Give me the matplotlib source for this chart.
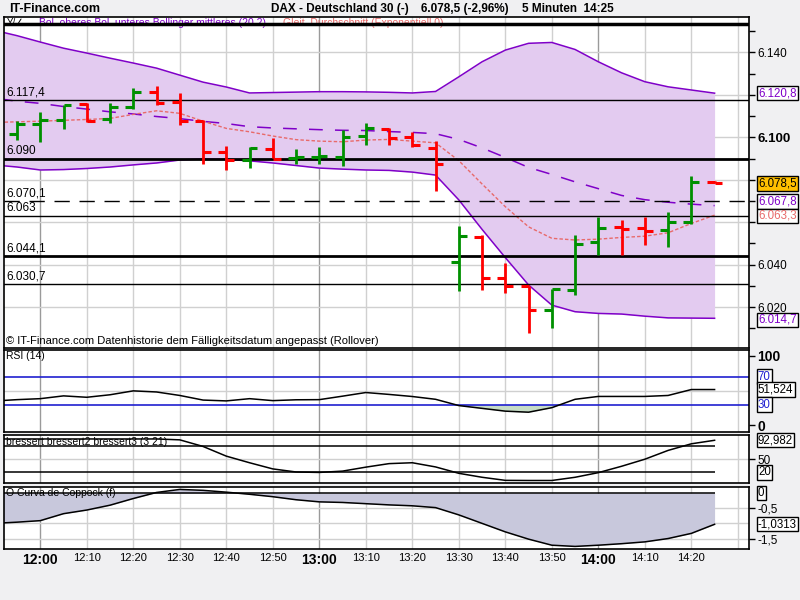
import numpy as np
import matplotlib
matplotlib.use("Agg")
import matplotlib.pyplot as plt
from matplotlib.transforms import blended_transform_factory

plt.rcParams['font.family'] = ['Liberation Sans', 'DejaVu Sans']

# 5 minute bars 11:55 .. 14:25
opens = [6101.6, 6106.4, 6108.0, 6115.5, 6108.6, 6114.3, 6121.5, 6116.6, 6107.8, 6093.3,
         6089.2, 6094.5, 6090.2, 6090.6, 6090.5, 6100.5, 6104.0, 6100.2, 6094.8, 6041.3,
         6052.8, 6033.5, 6030.0, 6018.6, 6028.0, 6050.8, 6057.8, 6057.2, 6056.4, 6060.2, 6079.0]
highs = [6107.8, 6111.7, 6115.0, 6116.4, 6116.0, 6123.3, 6124.4, 6120.7, 6108.3, 6095.7,
         6095.6, 6099.5, 6094.6, 6095.6, 6103.6, 6106.7, 6104.3, 6102.7, 6098.3, 6058.2,
         6053.8, 6040.6, 6030.0, 6028.6, 6053.8, 6062.3, 6061.0, 6062.3, 6064.6, 6081.7, 6079.2]
lows = [6098.8, 6097.8, 6104.0, 6107.2, 6106.8, 6113.4, 6115.0, 6105.9, 6087.2, 6084.6,
        6085.4, 6090.2, 6087.6, 6087.6, 6086.4, 6096.2, 6096.2, 6095.4, 6074.6, 6027.7,
        6028.0, 6026.4, 6007.9, 6010.0, 6025.5, 6044.4, 6044.5, 6049.2, 6048.4, 6059.0, 6078.3]
closes = [6106.1, 6108.0, 6115.0, 6107.8, 6114.2, 6121.5, 6116.3, 6107.5, 6093.1, 6089.2,
          6095.0, 6090.0, 6090.6, 6091.0, 6100.0, 6104.3, 6099.5, 6096.4, 6087.6, 6053.5,
          6033.5, 6030.0, 6018.6, 6028.6, 6049.7, 6057.2, 6056.7, 6055.8, 6060.2, 6079.0, 6078.5]

# indicators start one bar earlier (11:50) so they reach the left border
bb_upper = [6150.5, 6147.9, 6144.9, 6142.0, 6139.7, 6137.3, 6135.0, 6132.6, 6129.3, 6126.0,
            6123.7, 6120.9, 6121.1, 6121.3, 6121.5, 6121.5, 6121.4, 6121.2, 6120.9, 6121.6,
            6128.5, 6135.6, 6141.1, 6144.3, 6144.7, 6141.4, 6135.6, 6130.4, 6126.2, 6123.8,
            6122.3, 6120.8]
bb_lower = [6087.0, 6086.0, 6084.6, 6084.8, 6085.3, 6086.0, 6087.0, 6087.9, 6089.3, 6089.8,
            6089.6, 6088.9, 6087.9, 6086.7, 6085.5, 6085.0, 6084.6, 6084.4, 6083.6, 6082.2,
            6070.5, 6056.6, 6043.3, 6030.4, 6020.9, 6017.8, 6017.0, 6016.7, 6015.7, 6014.9,
            6014.8, 6014.7]
bb_mid = [6118.5, 6117.0, 6116.0, 6114.5, 6113.3, 6112.0, 6111.0, 6109.8, 6108.8, 6107.5,
          6106.5, 6105.0, 6104.4, 6104.0, 6103.6, 6103.3, 6103.2, 6102.7, 6102.3, 6101.7,
          6099.0, 6095.0, 6090.5, 6085.8, 6082.5, 6079.0, 6075.8, 6072.6, 6070.6, 6069.4,
          6068.5, 6067.8]
ema = [6107.0, 6107.3, 6107.6, 6108.0, 6108.4, 6108.9, 6110.8, 6112.5, 6111.3, 6107.6,
       6104.2, 6102.6, 6100.6, 6098.9, 6098.2, 6097.9, 6098.7, 6099.0, 6098.2, 6097.4,
       6089.0, 6078.0, 6067.3, 6057.8, 6052.4, 6051.6, 6052.0, 6052.8, 6053.4, 6055.0,
       6059.4, 6063.3]
rsi = [35, 37, 38.4, 42.4, 40.4, 44, 49.6, 48, 43, 36.4, 35.2, 38.4, 35.6, 36.8, 37.0, 42,
       47.2, 44.5, 41.5, 37.5, 28.5, 24.5, 20.5, 19.0, 25.5, 37.5, 41.6, 41.6, 41.6, 43,
       51.5, 51.5]
stoch = [96, 96, 96, 96, 96, 96, 96, 96, 94, 79, 57, 42, 28, 21, 20, 23, 32, 40, 42, 32.5,
         18, 9, 2, 1.7, 1.7, 9, 19.5, 34, 50, 70, 85, 93]
coppock = [-1.0, -0.96, -0.91, -0.68, -0.56, -0.40, -0.18, 0.02, 0.12, 0.09, 0.03, -0.04,
           -0.12, -0.22, -0.29, -0.31, -0.35, -0.39, -0.42, -0.48, -0.72, -1.0, -1.28, -1.52,
           -1.72, -1.76, -1.72, -1.67, -1.61, -1.50, -1.33, -1.03]

levels = [6153.4, 6117.4, 6090.0, 6070.1, 6063.0, 6044.1, 6030.7]
level_labels = ["", "6.117,4", "6.090", "6.070,1", "6.063", "6.044,1", "6.030,7"]

time_ticks = [1, 3, 5, 7, 9, 11, 13, 15, 17, 19, 21, 23, 25, 27, 29]
time_labels = ["12:00", "12:10", "12:20", "12:30", "12:40", "12:50", "13:00", "13:10",
               "13:20", "13:30", "13:40", "13:50", "14:00", "14:10", "14:20"]

# 6.060 / 6.080 / 6.120 sit behind the last-value boxes
price_ticks = [6020, 6040, 6060, 6080, 6100, 6120, 6140]
price_labels = ["6.020", "6.040", "", "", "6.100", "", "6.140"]

PURPLE = "#7f00c8"
FILL = "#e3cbf0"
GREEN = "#009000"
RED = "#ff0000"
SALMON = "#e86a6a"
BG = "#f0f0f2"

W, H = 800, 600
fig = plt.figure(figsize=(8, 6), dpi=100, facecolor=BG)


def px_axes(top, bottom, left=4, right=749):
    return fig.add_axes([left / W, 1 - bottom / H, (right - left) / W, (bottom - top) / H])


xb = np.arange(len(opens))
xi = np.arange(-1, len(opens))
XMIN, XMAX = -0.56, 31.48


def setup(ax):
    ax.set_facecolor("white")
    ax.set_xlim(XMIN, XMAX)
    for t in time_ticks + [31]:
        c = "#9a9a9a" if t in (1, 13, 25) else "#d0d0d0"
        ax.axvline(t, color=c, lw=1, zorder=0)
    ax.set_xticks([])
    ax.yaxis.tick_right()
    for s in ax.spines.values():
        s.set_linewidth(1.2)
    ax.tick_params(axis="y", length=4, width=1, labelsize=8.5, pad=2)


def value_box(ax, y, text, color, face="white"):
    tr = blended_transform_factory(ax.transAxes, ax.transData)
    ax.text(1.012, y, text, transform=tr, color=color, fontsize=8.3, va="center", ha="left",
            zorder=10, clip_on=False,
            bbox=dict(boxstyle="square,pad=0.1", facecolor=face, edgecolor="black", lw=1))


# ---------- main price panel ----------
ax = px_axes(17, 348)
setup(ax)
ax.set_ylim(6000.7, 6156.7)
for p in price_ticks:
    ax.axhline(p, color="#d0d0d0", lw=1, zorder=0)
ax.fill_between(xi, bb_lower, bb_upper, color=FILL, lw=0, zorder=1)
ax.plot(xi, bb_upper, color=PURPLE, lw=1.1, zorder=2)
ax.plot(xi, bb_lower, color=PURPLE, lw=1.1, zorder=2)
ax.plot(xi, bb_mid, color=PURPLE, lw=1.1, zorder=2, dashes=(9, 8))
ax.plot(xi, ema, color=SALMON, lw=1.0, zorder=2, dashes=(2.5, 1.5))

widths = [2.5, 1, 2, 1, 1, 2, 1]
for lv, lab, w in zip(levels, level_labels, widths):
    if lab == "6.070,1":
        ax.axhline(lv, color="black", lw=1, dashes=(11, 7), zorder=3)
    else:
        ax.axhline(lv, color="black", lw=w, zorder=3)
    if lab:
        ax.text(0.003, lv + 0.8, lab, transform=blended_transform_factory(ax.transAxes, ax.transData),
                fontsize=8.5, va="bottom", ha="left", zorder=4)

tick = 0.34
for i in xb:
    c = GREEN if closes[i] >= opens[i] else RED
    ax.vlines(i, lows[i], highs[i], color=c, lw=2, zorder=5)
    ax.hlines(opens[i], i - tick, i, color=c, lw=2.2, zorder=5)
    ax.hlines(closes[i], i, i + tick, color=c, lw=2.2, zorder=5)

ax.set_yticks(price_ticks, price_labels)
ax.set_yticks(np.arange(6010, 6160, 10), minor=True)
ax.tick_params(axis="y", which="minor", length=4, width=1)
for lbl in ax.get_yticklabels():
    if lbl.get_text() == "6.100":
        lbl.set_fontweight("bold")
        lbl.set_fontsize(9.5)

value_box(ax, 6120.8, "6.120,8", PURPLE)
value_box(ax, 6078.3, "6.078,5", "black", face="#ffc000")
value_box(ax, 6069.7, "6.067,8", PURPLE)
value_box(ax, 6063.0, "6.063,3", SALMON)
value_box(ax, 6013.9, "6.014,7", PURPLE)

ax.text(0.047, 0.981, "Bol. oberes Bol. unteres Bollinger mittleres (20 2)", transform=ax.transAxes,
        color=PURPLE, fontsize=7.5, va="center", ha="left", zorder=2)
ax.text(0.375, 0.981, "Gleit. Durchschnitt (Exponentiell 0)", transform=ax.transAxes,
        color=SALMON, fontsize=7.5, va="center", ha="left", zorder=2)
ax.text(0.004, 0.981, "Y/\u2220", transform=ax.transAxes, fontsize=7, va="center", ha="left")
ax.text(0.003, 0.022, "\u00a9 IT-Finance.com Datenhistorie dem F\u00e4lligkeitsdatum angepasst (Rollover)",
        transform=ax.transAxes, fontsize=8, va="center", ha="left", zorder=6)

# ---------- RSI ----------
ax2 = px_axes(350, 432)
setup(ax2)
ax2.set_ylim(-9.4, 108.2)
ax2.axhline(50, color="#d0d0d0", lw=1, zorder=0)
ax2.axhline(70, color="#2020d0", lw=1.2, zorder=2)
ax2.axhline(30, color="#2020d0", lw=1.2, zorder=2)
r = np.array(rsi)
ax2.fill_between(xi, r, 30, where=r < 30, interpolate=True, color="#c6dcc6", lw=0, zorder=1)
ax2.plot(xi, rsi, color="black", lw=1.1, zorder=3)
ax2.set_yticks([0, 100], ["0", "100"])
for lbl in ax2.get_yticklabels():
    lbl.set_fontweight("bold")
    lbl.set_fontsize(10)
value_box(ax2, 70, "70", "#2020d0")
value_box(ax2, 51.5, "51,524", "black")
value_box(ax2, 30, "30", "#2020d0")
ax2.text(0.003, 0.93, "RSI (14)", transform=ax2.transAxes, fontsize=7.5, va="center", ha="left")

# ---------- Stochastic ----------
ax3 = px_axes(435, 483)
setup(ax3)
ax3.set_ylim(-4, 105)
ax3.axhline(50, color="#d0d0d0", lw=1, zorder=0)
ax3.hlines([80, 20], XMIN, xi[-1], color="black", lw=1.1, zorder=2)
ax3.plot(xi, stoch, color="black", lw=1.1, zorder=3)
ax3.set_yticks([50], ["50"])
value_box(ax3, 93, "92,982", "black")
value_box(ax3, 20, "20", "black")
ax3.text(0.003, 0.86, "bressert bressert2 bressert3 (3 21)", transform=ax3.transAxes,
         fontsize=7.5, va="center", ha="left")

# ---------- Coppock ----------
ax4 = px_axes(486.7, 549.3)
setup(ax4)
ax4.set_ylim(-1.855, 0.21)
for g in [-0.5, -1.0, -1.5]:
    ax4.axhline(g, color="#d0d0d0", lw=1, zorder=0)
ax4.fill_between(xi, coppock, 0, color="#c8c8dc", lw=0, zorder=1)
ax4.hlines(0, XMIN, xi[-1], color="black", lw=1.1, zorder=2)
ax4.plot(xi, coppock, color="black", lw=1.1, zorder=3)
ax4.set_yticks([-0.5, -1.5], ["-0,5", "-1,5"])
value_box(ax4, 0, "0", "black")
value_box(ax4, -1.0313, "-1,0313", "black")
ax4.text(0.003, 0.9, "O Curva de Coppock (f)", transform=ax4.transAxes, fontsize=7.5,
         va="center", ha="left")

ax4.set_xticks(time_ticks, time_labels)
ax4.tick_params(axis="x", length=0, labelsize=8, pad=3)
for lbl in ax4.get_xticklabels():
    if lbl.get_text().endswith(":00"):
        lbl.set_fontweight("bold")
        lbl.set_fontsize(10)

# ---------- header ----------
fig.text(9 / W, 1 - 9 / H, "IT-Finance.com", fontsize=9, fontweight="bold", va="center")
fig.text(271 / W, 1 - 9 / H, "DAX - Deutschland 30 (-)", fontsize=8.5, fontweight="bold", va="center")
fig.text(421 / W, 1 - 9 / H, "6.078,5 (-2,96%)", fontsize=8.5, fontweight="bold", va="center")
fig.text(522 / W, 1 - 9 / H, "5 Minuten  14:25", fontsize=8.5, fontweight="bold", va="center")

fig.savefig("out.png", dpi=100, facecolor=BG)
